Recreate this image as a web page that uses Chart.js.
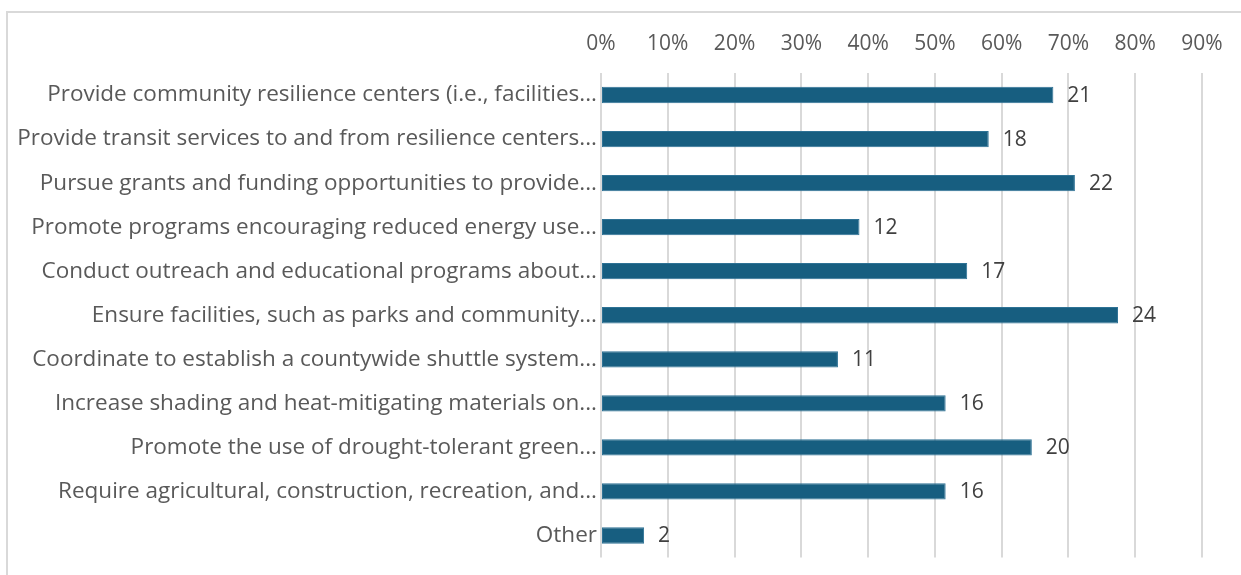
<!DOCTYPE html>
<html>
<head>
<meta charset="utf-8">
<script src="https://cdn.jsdelivr.net/npm/chart.js@4/dist/chart.umd.min.js"></script>
<style>
  html, body { margin: 0; padding: 0; background: #fff; }
  #frame {
    position: absolute; left: 6px; top: 11px; width: 1260px; height: 600px;
    border: 2px solid #d9d9d9; box-sizing: border-box;
  }
  #wrap { position: absolute; left: 0; top: 0; width: 1241px; height: 575px; }
</style>
</head>
<body>
<div id="frame"></div>
<div id="wrap"><canvas id="chart"></canvas></div>
<script>
const categories = [
  "Provide community resilience centers (i.e., facilities...",
  "Provide transit services to and from resilience centers...",
  "Pursue grants and funding opportunities to provide...",
  "Promote programs encouraging reduced energy use...",
  "Conduct outreach and educational programs about...",
  "Ensure facilities, such as parks and community...",
  "Coordinate to establish a countywide shuttle system...",
  "Increase shading and heat-mitigating materials on...",
  "Promote the use of drought-tolerant green...",
  "Require agricultural, construction, recreation, and...",
  "Other"
];
const responseCounts = [21, 18, 22, 12, 17, 24, 11, 16, 20, 16, 2];
const totalRespondents = 31;
const shareOfRespondents = responseCounts.map(c => c / totalRespondents * 100);

const FONT = "'Open Sans', sans-serif";

// draws the response count just right of each bar
const countLabels = {
  id: "countLabels",
  afterDatasetsDraw(chart) {
    const { ctx } = chart;
    const meta = chart.getDatasetMeta(0);
    ctx.save();
    ctx.font = "21px " + FONT;
    ctx.fillStyle = "#404040";
    ctx.textAlign = "left";
    ctx.textBaseline = "middle";
    meta.data.forEach((bar, i) => {
      ctx.fillText(String(responseCounts[i]), bar.x + 14, bar.y + 1);
    });
    ctx.restore();
  }
};

new Chart(document.getElementById("chart"), {
  type: "bar",
  data: {
    labels: categories,
    datasets: [{
      data: shareOfRespondents,
      backgroundColor: "#175e80",
      borderColor: "#2e7295",
      borderWidth: 1,
      borderSkipped: false,
      barPercentage: 0.37,
      categoryPercentage: 1
    }]
  },
  options: {
    indexAxis: "y",
    responsive: true,
    maintainAspectRatio: false,
    animation: false,
    layout: { padding: { left: 0, right: 39, top: 18, bottom: 17 } },
    plugins: { legend: { display: false }, tooltip: { enabled: false } },
    scales: {
      x: {
        position: "top",
        min: 0,
        max: 90,
        ticks: {
          stepSize: 10,
          padding: 16,
          color: "#595959",
          font: { family: FONT, size: 21 },
          callback: v => v + "%"
        },
        grid: { color: "#d9d9d9", lineWidth: 2, drawTicks: false },
        border: { display: false },
        afterFit(scale) { scale.height = 55; }
      },
      y: {
        ticks: {
          padding: 4,
          color: "#595959",
          font: { family: FONT, size: 22.5 },
          autoSkip: false
        },
        grid: { display: false, drawTicks: false },
        border: { display: false },
        afterFit(scale) { scale.width = 601; }
      }
    }
  },
  plugins: [countLabels]
});
</script>
</body>
</html>
